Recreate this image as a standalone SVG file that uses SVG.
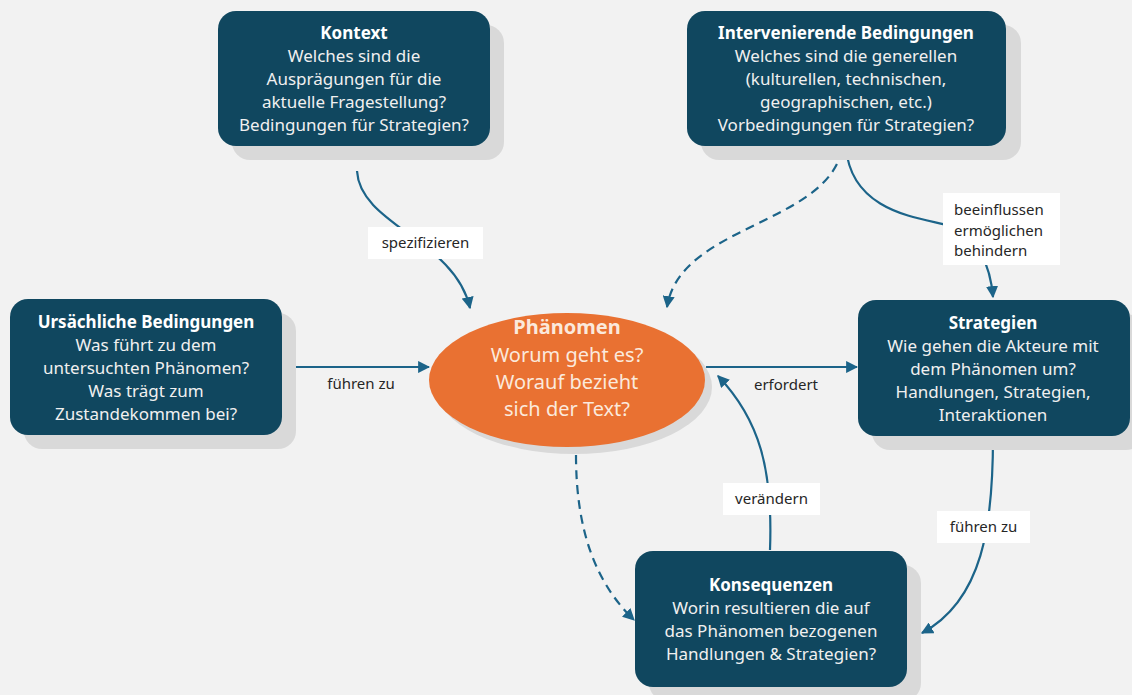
<svg xmlns="http://www.w3.org/2000/svg" width="1132" height="695" viewBox="0 0 1132 695">
  <defs>
    <marker id="arrow" viewBox="0 0 10 10" refX="9" refY="5" markerWidth="5.5" markerHeight="5.5" orient="auto-start-reverse" markerUnits="strokeWidth">
      <path d="M0,0 L10,5 L0,10 z" fill="#1c6489"/>
    </marker>
    <style>
      .box { fill: #10475f; }
      .shadow { fill: #d9d9d9; }
      .t { font-family: "Noto Sans", "Open Sans", sans-serif; font-size: 17px; fill: #f0f0f0; text-anchor: middle; }
      .tb { font-weight: bold; fill: #ffffff; }
      .pt { font-family: "Noto Sans", "Open Sans", sans-serif; font-size: 20px; fill: #fbe9dc; text-anchor: middle; }
      .conn { fill: none; stroke: #1c6489; stroke-width: 2.2; marker-end: url(#arrow); }
      .dash { stroke-dasharray: 9 6; }
      .lblbg { fill: #ffffff; }
      .lbl { font-family: "Noto Sans", "Open Sans", sans-serif; font-size: 15px; fill: #262626; }
    </style>
  </defs>

  <rect width="1132" height="695" fill="#f2f2f2"/>

  <!-- connectors -->
  <g id="connectors">
    <path class="conn" d="M357,171 C360,225 455,240 470,308"/>
    <path class="conn dash" d="M842,150 C825,225 680,225 667,307"/>
    <path class="conn" d="M846,148 C852,215 925,218 950,226 C976,236 990,262 993,297"/>
    <path class="conn" d="M282,367 L429,367"/>
    <path class="conn" d="M706,367 L857,367"/>
    <path class="conn" d="M770,550 C773,470 760,420 718,376"/>
    <path class="conn" d="M993,437 C993,525 983,600 922,633"/>
    <path class="conn dash" d="M576,455 C576,535 598,585 634,620"/>

    <rect class="lblbg" x="368" y="227" width="115" height="32"/>
    <text class="lbl" x="425.5" y="248" text-anchor="middle">spezifizieren</text>

    <rect class="lblbg" x="943" y="193" width="117" height="72"/>
    <text class="lbl" x="954" y="215">beeinflussen</text>
    <text class="lbl" x="954" y="236">ermöglichen</text>
    <text class="lbl" x="954" y="256">behindern</text>

    <text class="lbl" x="361" y="389" text-anchor="middle">führen zu</text>
    <text class="lbl" x="786" y="390" text-anchor="middle">erfordert</text>

    <rect class="lblbg" x="723" y="483" width="97" height="32"/>
    <text class="lbl" x="771.5" y="504" text-anchor="middle">verändern</text>

    <rect class="lblbg" x="937" y="511" width="93" height="32"/>
    <text class="lbl" x="983.5" y="532" text-anchor="middle">führen zu</text>
  </g>

  <!-- Kontext -->
  <g id="kontext">
    <rect class="shadow" x="232" y="25" width="272" height="135" rx="18"/>
    <rect class="box" x="218" y="11" width="272" height="135" rx="18"/>
    <text class="t tb" x="354" y="39">Kontext</text>
    <text class="t" x="354" y="62">Welches sind die</text>
    <text class="t" x="354" y="85">Ausprägungen für die</text>
    <text class="t" x="354" y="108">aktuelle Fragestellung?</text>
    <text class="t" x="354" y="131">Bedingungen für Strategien?</text>
  </g>

  <!-- Intervenierende Bedingungen -->
  <g id="intervenierende">
    <rect class="shadow" x="701" y="25" width="320" height="135" rx="18"/>
    <rect class="box" x="687" y="11" width="319" height="135" rx="18"/>
    <text class="t tb" x="846" y="39">Intervenierende Bedingungen</text>
    <text class="t" x="846" y="62">Welches sind die generellen</text>
    <text class="t" x="846" y="85">(kulturellen, technischen,</text>
    <text class="t" x="846" y="108">geographischen, etc.)</text>
    <text class="t" x="846" y="131">Vorbedingungen für Strategien?</text>
  </g>

  <!-- Ursächliche Bedingungen -->
  <g id="ursaechliche">
    <rect class="shadow" x="24" y="313" width="272" height="136" rx="18"/>
    <rect class="box" x="10" y="299" width="272" height="136" rx="18"/>
    <text class="t tb" x="146" y="328">Ursächliche Bedingungen</text>
    <text class="t" x="146" y="351">Was führt zu dem</text>
    <text class="t" x="146" y="374">untersuchten Phänomen?</text>
    <text class="t" x="146" y="397">Was trägt zum</text>
    <text class="t" x="146" y="420">Zustandekommen bei?</text>
  </g>

  <!-- Phänomen -->
  <g id="phaenomen">
    <ellipse cx="574" cy="387" rx="138" ry="67" fill="#d9d9d9"/>
    <ellipse cx="567" cy="380" rx="138" ry="67" fill="#e97132"/>
    <text class="pt tb" x="567" y="334">Phänomen</text>
    <text class="pt" x="567" y="362">Worum geht es?</text>
    <text class="pt" x="567" y="389">Worauf bezieht</text>
    <text class="pt" x="567" y="416">sich der Text?</text>
  </g>

  <!-- Strategien -->
  <g id="strategien">
    <rect class="shadow" x="872" y="314" width="272" height="136" rx="18"/>
    <rect class="box" x="858" y="300" width="272" height="136" rx="18"/>
    <text class="t tb" x="993" y="329">Strategien</text>
    <text class="t" x="993" y="352">Wie gehen die Akteure mit</text>
    <text class="t" x="993" y="375">dem Phänomen um?</text>
    <text class="t" x="993" y="398">Handlungen, Strategien,</text>
    <text class="t" x="993" y="421">Interaktionen</text>
  </g>

  <!-- Konsequenzen -->
  <g id="konsequenzen">
    <rect class="shadow" x="649" y="565" width="272" height="136" rx="18"/>
    <rect class="box" x="635" y="551" width="272" height="136" rx="18"/>
    <text class="t tb" x="771" y="591">Konsequenzen</text>
    <text class="t" x="771" y="614">Worin resultieren die auf</text>
    <text class="t" x="771" y="637">das Phänomen bezogenen</text>
    <text class="t" x="771" y="660">Handlungen &amp; Strategien?</text>
  </g>
</svg>
